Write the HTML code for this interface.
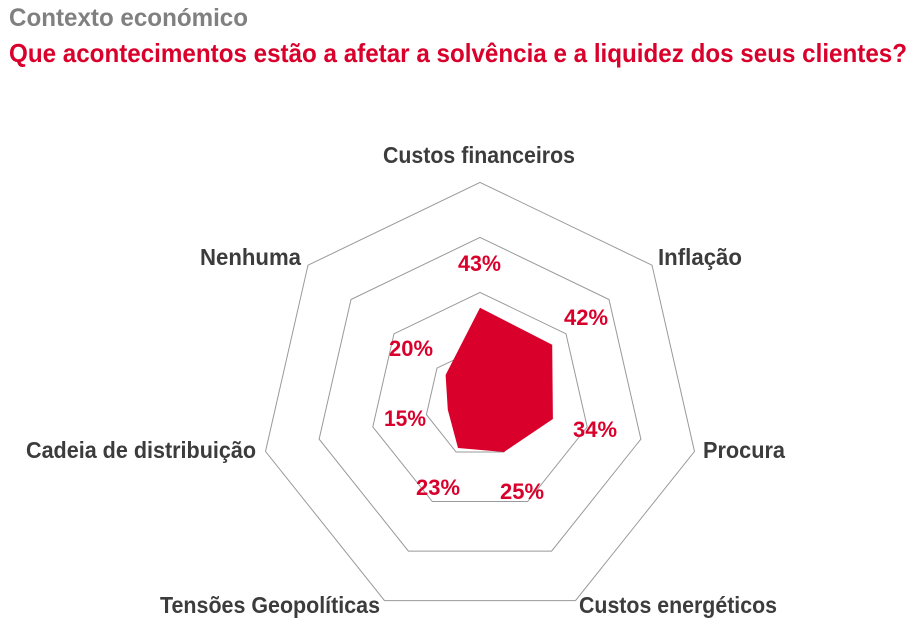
<!DOCTYPE html>
<html><head><meta charset="utf-8"><style>
html,body{margin:0;padding:0;background:#fff;}
svg{display:block;}
text{font-family:"Liberation Sans",sans-serif;font-weight:bold;}
</style></head><body>
<svg width="919" height="641" viewBox="0 0 919 641" xmlns="http://www.w3.org/2000/svg">
<text x="9" y="26" font-size="25" fill="#808080" textLength="239" lengthAdjust="spacingAndGlyphs">Contexto económico</text>
<text x="9" y="62" font-size="26" fill="#d9002b" textLength="898" lengthAdjust="spacingAndGlyphs">Que acontecimentos estão a afetar a solvência e a liquidez dos seus clientes?</text>
<g fill="none" stroke="#999" stroke-width="1">
<polygon points="480,182.4 652,265.2 694.5,451.4 575.5,600.6 384.5,600.6 265.5,451.4 308,265.2"/>
<polygon points="480,237.4 609,299.5 640.9,439.1 551.6,551.1 408.4,551.1 319.1,439.1 351,299.5"/>
<polygon points="480,292.4 566,333.8 587.2,426.9 527.7,501.5 432.3,501.5 372.8,426.9 394,333.8"/>
<polygon points="480,347.4 523,368.1 533.6,414.6 503.9,452 456.1,452 426.4,414.6 437,368.1"/>
</g>
<polygon points="480,307.8 552.2,344.8 552.9,419 503.9,452 458,448 447.8,409.7 445.6,375" fill="#d9002b"/>
<g font-size="22" fill="#d9002b">
<text x="458" y="271" textLength="43" lengthAdjust="spacingAndGlyphs">43%</text>
<text x="564" y="325" textLength="44" lengthAdjust="spacingAndGlyphs">42%</text>
<text x="573" y="437" textLength="44" lengthAdjust="spacingAndGlyphs">34%</text>
<text x="500" y="499" textLength="44" lengthAdjust="spacingAndGlyphs">25%</text>
<text x="416" y="495" textLength="44" lengthAdjust="spacingAndGlyphs">23%</text>
<text x="384" y="426" textLength="42" lengthAdjust="spacingAndGlyphs">15%</text>
<text x="389" y="356" textLength="44" lengthAdjust="spacingAndGlyphs">20%</text>
</g>
<g font-size="23" fill="#3c3c3c">
<text x="383" y="163" textLength="192" lengthAdjust="spacingAndGlyphs">Custos financeiros</text>
<text x="658" y="265" textLength="84" lengthAdjust="spacingAndGlyphs">Inflação</text>
<text x="703" y="458" textLength="82" lengthAdjust="spacingAndGlyphs">Procura</text>
<text x="579" y="613" textLength="198" lengthAdjust="spacingAndGlyphs">Custos energéticos</text>
<text x="160" y="613" textLength="220" lengthAdjust="spacingAndGlyphs">Tensões Geopolíticas</text>
<text x="26" y="458" textLength="230" lengthAdjust="spacingAndGlyphs">Cadeia de distribuição</text>
<text x="200" y="265" textLength="101" lengthAdjust="spacingAndGlyphs">Nenhuma</text>
</g>
</svg>
</body></html>
